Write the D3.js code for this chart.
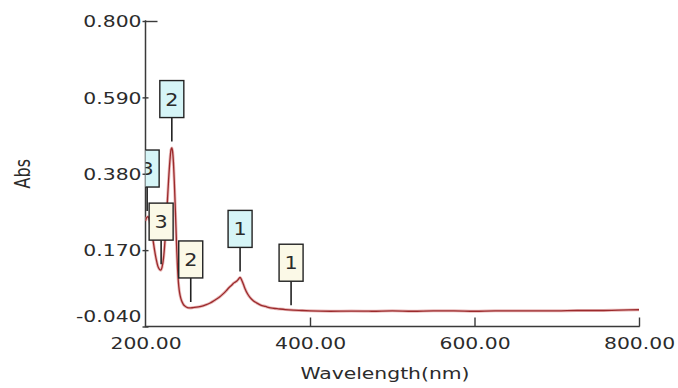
<!DOCTYPE html>
<html>
<head>
<meta charset="utf-8">
<script src="https://cdn.jsdelivr.net/npm/d3@7"></script>
<style>
  html, body { margin: 0; padding: 0; background: #fff; }
  svg { display: block; }
  text { font-family: "DejaVu Sans", Verdana, sans-serif; fill: #2b2b2b; }
</style>
</head>
<body>
<div id="chart"></div>
<script>
// ---- data ----
const wavelengths = [200,201,203,205,207,209,211,213,215,217,218.5,220,222,224,226,228,230,231,232,233,234,235,236,237,238,239,240,241,242,244,246,248,251,254,258,262,266,270,274,278,282,286,290,294,298,302,305,307,309,311,313,315,317,319,321,324,327,331,335,340,346,352,360,370,380,390,400,425,450,475,500,525,550,575,600,625,650,675,700,725,750,775,800];
const absorbance = [0.250,0.258,0.262,0.250,0.228,0.200,0.170,0.145,0.126,0.117,0.115,0.122,0.150,0.205,0.280,0.360,0.425,0.446,0.451,0.440,0.410,0.360,0.300,0.235,0.170,0.118,0.082,0.060,0.046,0.030,0.021,0.016,0.012,0.011,0.012,0.013,0.0145,0.017,0.020,0.024,0.029,0.035,0.041,0.049,0.058,0.068,0.074,0.079,0.082,0.085,0.090,0.095,0.087,0.076,0.064,0.050,0.040,0.031,0.025,0.019,0.015,0.011,0.009,0.0065,0.005,0.004,0.003,0.002,0.0025,0.002,0.003,0.002,0.003,0.003,0.002,0.003,0.003,0.003,0.003,0.004,0.004,0.005,0.006];

const peakNm = [315, 232, 202];
const peakAbs = [0.095, 0.452, 0.261];
const peakLabels = ["1", "2", "3"];

const valleyNm = [377, 255, 219];
const valleyAbs = [0.002, 0.011, 0.115];
const valleyLabels = ["1", "2", "3"];

const xTicks = [200, 400, 600, 800];
const yTicks = [-0.040, 0.170, 0.380, 0.590, 0.800];
const xTitle = "Wavelength(nm)";
const yTitle = "Abs";

// ---- layout ----
const W = 678, H = 388;
const STRETCH = 1.27;
const svg = d3.select("#chart").append("svg").attr("width", W).attr("height", H);

const x = d3.scaleLinear().domain([200, 800]).range([145.5, 639]);
const y = d3.scaleLinear().domain([-0.040, 0.800]).range([326.5, 21]);

function stretch(sel, k) {
  sel.each(function() {
    const len = this.getComputedTextLength();
    d3.select(this).attr("textLength", len * k).attr("lengthAdjust", "spacingAndGlyphs");
  });
}

const axisColor = "#3a3a3a";

// clip for plot area
svg.append("clipPath").attr("id", "plotclip")
  .append("rect").attr("x", x(200)).attr("y", 0).attr("width", x(800) - x(200) + 2).attr("height", y(-0.040));

// y axis
const gy = svg.append("g").attr("transform", `translate(${x(200)},0)`)
  .call(d3.axisLeft(y).tickValues(yTicks).tickSize(0).tickFormat(d3.format(".3f")));
gy.select(".domain").remove();
gy.selectAll(".tick text")
  .attr("x", -4).attr("dy", "0.36em")
  .style("font-size", "16px").style("font-family", "DejaVu Sans").attr("fill", "#2b2b2b")
  .attr("transform", d => d === yTicks[0] ? "translate(0,-10.5)" : null)
  .text(d => d3.format(".3f")(d).replace("−", "-"));
stretch(gy.selectAll(".tick text"), STRETCH);
gy.selectAll(".tick").append("line")
  .attr("x1", -3).attr("x2", d => d === yTicks[yTicks.length - 1] ? 12 : 3)
  .attr("stroke", axisColor).attr("stroke-width", 1.4);

// x axis
const gx = svg.append("g").attr("transform", `translate(0,${y(-0.040)})`)
  .call(d3.axisBottom(x).tickValues(xTicks).tickSize(0).tickFormat(d3.format(".2f")));
gx.select(".domain").remove();
gx.selectAll(".tick text")
  .attr("y", 22).attr("dy", 0)
  .style("font-size", "16px").style("font-family", "DejaVu Sans").attr("fill", "#2b2b2b");
stretch(gx.selectAll(".tick text"), STRETCH);
gx.selectAll(".tick").filter(d => d !== xTicks[0]).append("line")
  .attr("y1", 0).attr("y2", -9).attr("stroke", axisColor).attr("stroke-width", 1.4);

// axis lines
svg.append("line").attr("x1", x(200)).attr("x2", x(200)).attr("y1", y(0.800) - 0.7).attr("y2", y(-0.040))
  .attr("stroke", axisColor).attr("stroke-width", 1.5);
svg.append("line").attr("x1", x(200) - 0.7).attr("x2", x(800) + 0.7).attr("y1", y(-0.040)).attr("y2", y(-0.040))
  .attr("stroke", axisColor).attr("stroke-width", 1.5);

// axis titles
const xt = svg.append("text").attr("x", 385).attr("y", 379).attr("text-anchor", "middle")
  .style("font-size", "16px").text(xTitle);
stretch(xt, STRETCH);
svg.append("g").attr("transform", `translate(23,${(y(0.8) + y(-0.04)) / 2}) scale(${STRETCH},1) rotate(-90)`)
  .append("text").attr("text-anchor", "middle").attr("dy", "0.36em")
  .style("font-size", "16px").text(yTitle);

// curve
const pts = wavelengths.map((w, i) => [w, absorbance[i]]);
const line = d3.line().x(d => x(d[0])).y(d => y(d[1])).curve(d3.curveMonotoneX);
const plot = svg.append("g").attr("clip-path", "url(#plotclip)");
plot.append("path").attr("d", line(pts)).attr("fill", "none")
  .attr("stroke", "#e9b9b9").attr("stroke-width", 3).attr("stroke-linejoin", "round");
plot.append("path").attr("d", line(pts)).attr("fill", "none")
  .attr("stroke", "#9b2a2c").attr("stroke-width", 1.3).attr("stroke-linejoin", "round");

// peak / valley labels
const GAP = 6, STEM = 24, BOX_H = 37, BOX_W = 24;
function drawLabels(nms, vals, labels, fill) {
  const g = plot.selectAll(null).data(nms.map((n, i) => ({n, v: vals[i], l: labels[i]})))
    .enter().append("g");
  g.append("line")
    .attr("x1", d => x(d.n)).attr("x2", d => x(d.n))
    .attr("y1", d => y(d.v) - GAP).attr("y2", d => y(d.v) - GAP - STEM)
    .attr("stroke", "#222").attr("stroke-width", 1.6);
  g.append("rect")
    .attr("x", d => x(d.n) - BOX_W / 2).attr("y", d => y(d.v) - GAP - STEM - BOX_H)
    .attr("width", BOX_W).attr("height", BOX_H)
    .attr("fill", fill).attr("stroke", "#222").attr("stroke-width", 1.4);
  const t = g.append("text")
    .attr("x", d => x(d.n)).attr("y", d => y(d.v) - GAP - STEM - BOX_H / 2)
    .attr("dy", "0.36em").attr("text-anchor", "middle")
    .style("font-size", "18px").attr("fill", "#333").text(d => d.l);
  stretch(t, 1.15);
}
drawLabels(valleyNm, valleyAbs, valleyLabels, "#fbf9e7");
drawLabels(peakNm, peakAbs, peakLabels, "#d6f5f7");
</script>
</body>
</html>
